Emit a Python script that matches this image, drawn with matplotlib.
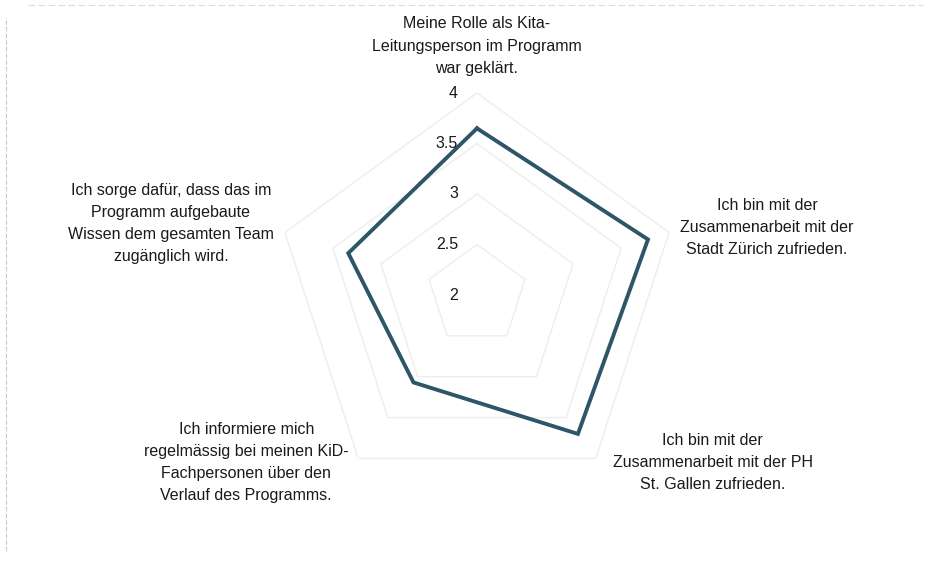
import numpy as np
import matplotlib
matplotlib.use('Agg')
import matplotlib.pyplot as plt
from matplotlib.lines import Line2D

# Kategorien im Uhrzeigersinn, beginnend oben
categories = [
    'Meine Rolle als Kita-\nLeitungsperson im Programm\nwar geklärt.',
    'Ich bin mit der\nZusammenarbeit mit der\nStadt Zürich zufrieden.',
    'Ich bin mit der\nZusammenarbeit mit der PH\nSt. Gallen zufrieden.',
    'Ich informiere mich\nregelmässig bei meinen KiD-\nFachpersonen über den\nVerlauf des Programms.',
    'Ich sorge dafür, dass das im\nProgramm aufgebaute\nWissen dem gesamten Team\nzugänglich wird.',
]
values = [3.65, 3.78, 3.70, 3.07, 3.34]
r_ticks = [2, 2.5, 3, 3.5, 4]
r_tick_labels = ['2', '2.5', '3', '3.5', '4']

plt.rcParams['font.family'] = ['Liberation Sans', 'DejaVu Sans']

fig = plt.figure(figsize=(9.32, 5.8), dpi=100)
ax = fig.add_axes([275 / 932, 83 / 580, 404 / 932, 404 / 580], projection='polar')
ax.set_theta_offset(np.pi / 2)
ax.set_theta_direction(-1)

angles = np.linspace(0, 2 * np.pi, len(categories), endpoint=False).tolist()
closed = angles + angles[:1]

# Fuenfeck-Gitterlinien
for r in r_ticks[1:]:
    ax.plot(closed, [r] * len(closed), color='#ededed', lw=1, zorder=1)

ax.plot(closed, values + values[:1], color='#2d5668', lw=2.8,
        solid_joinstyle='miter', zorder=3)

ax.set_ylim(r_ticks[0], r_ticks[-1])
ax.set_xticks([])
ax.set_yticks([])
ax.grid(False)
ax.spines['polar'].set_visible(False)
ax.patch.set_alpha(0)

for v, lab in zip(r_ticks, r_tick_labels):
    ax.annotate(lab, xy=(0, v), xytext=(-19, 0), textcoords='offset pixels',
                ha='right', va='center', fontsize=11.5, color='#1a1a1a')

# Position der Beschriftungen relativ zur aeusseren Ecke
label_offsets = [(0, 47), (98, 5), (117, -4), (-112, -4), (-114, 9)]
for ang, cat, off in zip(angles, categories, label_offsets):
    ax.annotate(cat, xy=(ang, r_ticks[-1]), xytext=off, textcoords='offset pixels',
                ha='center', va='center', multialignment='center',
                fontsize=11.5, linespacing=1.6, color='#1a1a1a')

# Scan-Raender
fig.add_artist(Line2D([0.006, 0.006], [0.05, 0.97], color='#c8c8c8', lw=0.8,
                      ls=(0, (4, 2)), transform=fig.transFigure))
fig.add_artist(Line2D([0.03, 0.99], [0.992, 0.992], color='#dddddd', lw=0.8,
                      ls=(0, (6, 3)), transform=fig.transFigure))

fig.savefig('out.png', dpi=100, facecolor='white')
